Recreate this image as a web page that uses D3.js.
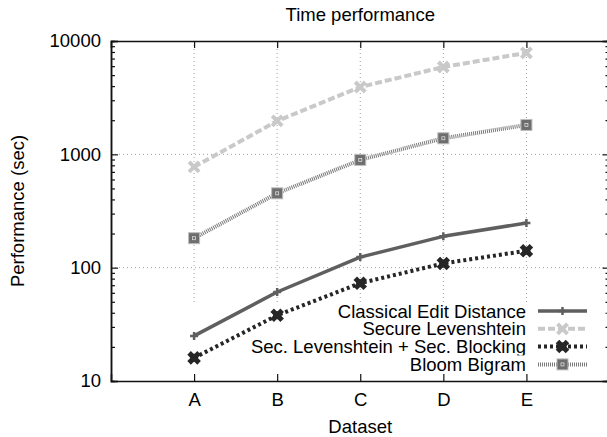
<!DOCTYPE html>
<html>
<head>
<meta charset="utf-8">
<script src="https://cdn.jsdelivr.net/npm/d3@7"></script>
<style>
  body { margin: 0; background: #fff; }
  svg { display: block; }
  text { font-family: "Liberation Sans", Arial, sans-serif; fill: #000; }
</style>
</head>
<body>
<svg id="chart" width="607" height="437"></svg>
<script>
// データ
const categories = ['A', 'B', 'C', 'D', 'E'];
const classicalEdit = [25, 61, 124, 189, 248];
const secureLev = [774, 1970, 3930, 5900, 7850];
const secLevBlocking = [16, 38, 73, 109, 141];
const bloomBigram = [182, 453, 893, 1386, 1817];
const yTicks = [10, 100, 1000, 10000];
const seriesNames = ['Classical Edit Distance', 'Secure Levenshtein', 'Sec. Levenshtein + Sec. Blocking', 'Bloom Bigram'];

const W = 607, H = 437;
const m = { left: 111, right: -2.5, top: 41, bottom: 56 };

const svg = d3.select('#chart');
const x = d3.scaleLinear().domain([0, categories.length + 1]).range([m.left, W - m.right]);
const y = d3.scaleLog().domain([10, 10000]).range([H - m.bottom, m.top]);

const styles = [
    { color: '#5f5f5f', width: 3.5, dash: null, mark: 'plus' },
    { color: '#c9c9c9', width: 4, dash: '7,3', mark: 'cross' },
    { color: '#262626', width: 4, dash: '3,3', mark: 'bigx' },
    { color: '#7a7a7a', width: 4, dash: '1,1', mark: 'box' },
];
const series = [classicalEdit, secureLev, secLevBlocking, bloomBigram];

// 罫線
const minors = [];
for (let d = 10; d < 10000; d *= 10)
    for (let k = 2; k <= 9; k++) minors.push(d * k);

const grid = svg.append('g').attr('class', 'grid')
    .attr('stroke', '#a0a0a0').attr('stroke-width', 1).attr('stroke-dasharray', '1,3');
const keyTop = 302;
grid.selectAll('line.v').data(categories).enter().append('line')
    .attr('x1', (d, i) => x(i + 1)).attr('x2', (d, i) => x(i + 1))
    .attr('y1', y(10000)).attr('y2', keyTop);
grid.selectAll('line.h').data([100, 1000]).enter().append('line')
    .attr('x1', x(0)).attr('x2', x(categories.length + 1))
    .attr('y1', d => y(d)).attr('y2', d => y(d));

// 軸
const axisG = svg.append('g');
const fs = '18.5px';
axisG.append('g').attr('transform', `translate(${x(0)},0)`)
    .call(d3.axisLeft(y).tickValues(yTicks).tickFormat(d3.format('d')).tickSize(-7).tickPadding(10));
axisG.append('g').attr('transform', `translate(${x(0)},0)`)
    .call(d3.axisLeft(y).tickValues(minors).tickFormat('').tickSize(-4));
axisG.append('g').attr('transform', `translate(${x(categories.length + 1)},0)`)
    .call(d3.axisRight(y).tickValues(yTicks).tickFormat('').tickSize(-7));
axisG.append('g').attr('transform', `translate(${x(categories.length + 1)},0)`)
    .call(d3.axisRight(y).tickValues(minors).tickFormat('').tickSize(-4));
axisG.append('g').attr('transform', `translate(0,${y(10)})`)
    .call(d3.axisBottom(x).tickValues(d3.range(1, categories.length + 1))
        .tickFormat(d => categories[d - 1]).tickSize(-7).tickPadding(12));
axisG.append('g').attr('transform', `translate(0,${y(10000)})`)
    .call(d3.axisTop(x).tickValues(d3.range(1, categories.length + 1)).tickFormat('').tickSize(-7));
axisG.selectAll('.domain').attr('stroke', '#111').attr('stroke-width', 1.5);
axisG.selectAll('.tick line').attr('stroke', '#111').attr('stroke-width', 1.2);
axisG.selectAll('.tick text').attr('font-size', fs).attr('font-family', '"Liberation Sans", Arial, sans-serif').attr('fill', '#000');

// 見出し
svg.append('text').attr('x', x(3)).attr('y', 21).attr('text-anchor', 'middle')
    .attr('font-size', fs).text('Time performance');
svg.append('text').attr('x', x(3)).attr('y', 433).attr('text-anchor', 'middle')
    .attr('font-size', fs).text('Dataset');
svg.append('text').attr('transform', `translate(24,${(y(10) + y(10000)) / 2}) rotate(-90)`)
    .attr('text-anchor', 'middle').attr('font-size', fs).text('Performance (sec)');

// マーカー
function drawMark(g, kind, cx, cy, color) {
    if (kind === 'plus') {
        g.append('path').attr('d', `M${cx - 4},${cy}H${cx + 4}M${cx},${cy - 4}V${cy + 4}`)
            .attr('stroke', color).attr('stroke-width', 2.5).attr('fill', 'none');
    } else if (kind === 'cross') {
        g.append('path').attr('d', `M${cx - 5},${cy - 5}L${cx + 5},${cy + 5}M${cx - 5},${cy + 5}L${cx + 5},${cy - 5}`)
            .attr('stroke', color).attr('stroke-width', 4).attr('fill', 'none');
    } else if (kind === 'bigx') {
        g.append('path').attr('d', `M${cx - 5},${cy - 5}L${cx + 5},${cy + 5}M${cx - 5},${cy + 5}L${cx + 5},${cy - 5}`)
            .attr('stroke', color).attr('stroke-width', 5).attr('fill', 'none');
        g.append('circle').attr('cx', cx).attr('cy', cy).attr('r', 4).attr('fill', color);
    } else if (kind === 'box') {
        g.append('rect').attr('x', cx - 5.5).attr('y', cy - 5.5).attr('width', 11).attr('height', 11)
            .attr('fill', '#6e6e6e').attr('stroke', '#bdbdbd').attr('stroke-width', 1);
        g.append('rect').attr('x', cx - 1.5).attr('y', cy - 1.5).attr('width', 3).attr('height', 3)
            .attr('fill', 'none').attr('stroke', '#dcdcdc').attr('stroke-width', 0.8);
    }
}

// 凡例
const key = svg.append('g').attr('class', 'key');
const keyRow0 = 311, keyStep = 17.8;
seriesNames.forEach((name, i) => {
    const st = styles[i];
    const ky = keyRow0 + i * keyStep;
    key.append('rect').attr('x', 200).attr('y', ky - 9).attr('width', 395).attr('height', keyStep).attr('fill', '#fff');
    key.append('text').attr('x', 526).attr('y', ky + 6.5).attr('text-anchor', 'end')
        .attr('font-size', fs).text(name);
    key.append('line').attr('x1', 538).attr('x2', 587).attr('y1', ky).attr('y2', ky)
        .attr('stroke', st.color).attr('stroke-width', st.width).attr('stroke-dasharray', st.dash);
    drawMark(key, st.mark, 562.5, ky, st.color);
});

// 系列
const line = d3.line().x((d, i) => x(i + 1)).y(d => y(d));
const plot = svg.append('g').attr('class', 'series');
series.forEach((vals, i) => {
    const st = styles[i];
    plot.append('path').datum(vals).attr('d', line)
        .attr('fill', 'none').attr('stroke', st.color).attr('stroke-width', st.width)
        .attr('stroke-dasharray', st.dash).attr('stroke-linejoin', 'round');
    vals.forEach((v, j) => drawMark(plot, st.mark, x(j + 1), y(v), st.color));
});
</script>
</body>
</html>
